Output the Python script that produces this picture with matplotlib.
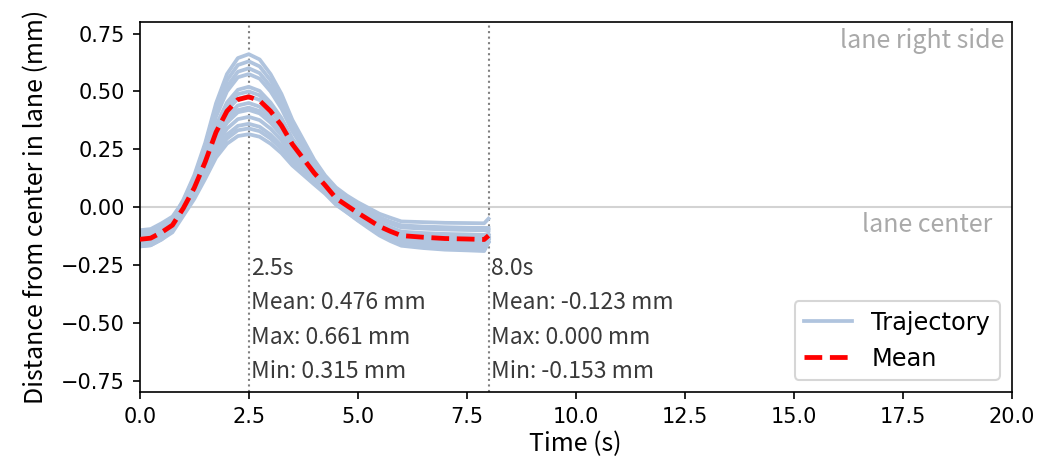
import numpy as np
import matplotlib as mpl
mpl.use('Agg')
import matplotlib.pyplot as plt

# --------------------------
# Data
# --------------------------
time_s = [0.0, 0.25, 0.5, 0.75, 1.0, 1.25, 1.5, 1.75, 2.0, 2.25, 2.5, 2.75, 3.0, 3.25, 3.5,
          3.75, 4.0, 4.25, 4.5, 4.75, 5.0, 5.25, 5.5, 5.75, 6.0, 6.5, 7.0, 7.5, 7.9, 8.0]

traj_01 = [-0.120, -0.115, -0.090, -0.053, 0.032, 0.138, 0.277, 0.449, 0.575, 0.644, 0.661, 0.638,
           0.575, 0.489, 0.377, 0.291, 0.205, 0.137, 0.085, 0.050, 0.021, -0.004, -0.029, -0.046,
           -0.062, -0.065, -0.068, -0.069, -0.070, -0.050]
traj_02 = [-0.100, -0.095, -0.070, -0.041, 0.026, 0.129, 0.264, 0.428, 0.548, 0.614, 0.630, 0.608,
           0.548, 0.466, 0.359, 0.277, 0.195, 0.130, 0.075, 0.040, 0.010, -0.017, -0.044, -0.063,
           -0.079, -0.084, -0.087, -0.089, -0.090, -0.090]
traj_03 = [-0.150, -0.145, -0.120, -0.078, 0.020, 0.120, 0.250, 0.408, 0.522, 0.585, 0.600, 0.579,
           0.522, 0.444, 0.342, 0.264, 0.186, 0.123, 0.056, 0.030, 0.003, -0.025, -0.052, -0.071,
           -0.088, -0.093, -0.097, -0.099, -0.100, -0.100]
traj_04 = [-0.130, -0.125, -0.100, -0.066, 0.015, 0.113, 0.239, 0.391, 0.500, 0.561, 0.575, 0.555,
           0.500, 0.426, 0.328, 0.253, 0.178, 0.117, 0.052, 0.022, -0.008, -0.037, -0.067, -0.087,
           -0.106, -0.112, -0.116, -0.118, -0.120, -0.115]
traj_05 = [-0.160, -0.155, -0.130, -0.090, 0.004, 0.096, 0.214, 0.354, 0.452, 0.507, 0.520, 0.502,
           0.452, 0.385, 0.296, 0.229, 0.161, 0.105, 0.043, 0.011, -0.021, -0.052, -0.082, -0.104,
           -0.123, -0.130, -0.136, -0.138, -0.140, -0.120]
traj_06 = [-0.110, -0.105, -0.080, -0.056, 0.000, 0.090, 0.205, 0.340, 0.435, 0.488, 0.500, 0.483,
           0.435, 0.370, 0.285, 0.220, 0.155, 0.100, 0.040, 0.011, -0.019, -0.047, -0.076, -0.097,
           -0.114, -0.121, -0.126, -0.128, -0.130, -0.130]
traj_07 = [-0.140, -0.135, -0.110, -0.078, -0.004, 0.084, 0.196, 0.326, 0.418, 0.468, 0.480, 0.463,
           0.418, 0.355, 0.274, 0.211, 0.149, 0.095, 0.037, 0.004, -0.029, -0.060, -0.091, -0.113,
           -0.132, -0.140, -0.146, -0.148, -0.150, -0.130]
traj_08 = [-0.170, -0.165, -0.140, -0.101, -0.010, 0.075, 0.183, 0.306, 0.392, 0.439, 0.450, 0.434,
           0.392, 0.333, 0.257, 0.198, 0.140, 0.089, 0.032, 0.003, -0.027, -0.056, -0.085, -0.105,
           -0.123, -0.130, -0.136, -0.138, -0.140, -0.130]
traj_09 = [-0.130, -0.125, -0.100, -0.074, -0.014, 0.069, 0.174, 0.292, 0.374, 0.419, 0.430, 0.415,
           0.374, 0.318, 0.245, 0.189, 0.133, 0.084, 0.029, -0.004, -0.038, -0.068, -0.099, -0.122,
           -0.141, -0.149, -0.155, -0.158, -0.160, -0.130]
traj_10 = [-0.150, -0.145, -0.120, -0.089, -0.016, 0.066, 0.169, 0.286, 0.365, 0.410, 0.420, 0.405,
           0.365, 0.311, 0.239, 0.185, 0.130, 0.082, 0.027, -0.003, -0.034, -0.063, -0.092, -0.114,
           -0.132, -0.140, -0.146, -0.148, -0.150, -0.145]
traj_11 = [-0.120, -0.115, -0.090, -0.070, -0.022, 0.057, 0.156, 0.265, 0.339, 0.380, 0.390, 0.376,
           0.339, 0.289, 0.222, 0.172, 0.121, 0.075, 0.022, -0.012, -0.045, -0.076, -0.107, -0.130,
           -0.150, -0.158, -0.165, -0.167, -0.170, -0.140]
traj_12 = [-0.160, -0.155, -0.130, -0.099, -0.028, 0.048, 0.142, 0.245, 0.313, 0.351, 0.360, 0.347,
           0.313, 0.266, 0.205, 0.158, 0.112, 0.068, 0.018, -0.015, -0.048, -0.078, -0.108, -0.131,
           -0.150, -0.158, -0.165, -0.167, -0.170, -0.140]
traj_13 = [-0.140, -0.135, -0.110, -0.087, -0.032, 0.042, 0.133, 0.231, 0.296, 0.332, 0.340, 0.328,
           0.296, 0.252, 0.194, 0.150, 0.105, 0.063, 0.014, -0.022, -0.058, -0.091, -0.123, -0.147,
           -0.167, -0.177, -0.184, -0.187, -0.190, -0.153]
traj_14 = [-0.170, -0.165, -0.140, -0.109, -0.037, 0.035, 0.122, 0.214, 0.274, 0.307, 0.315, 0.304,
           0.274, 0.233, 0.180, 0.139, 0.098, 0.058, 0.010, -0.023, -0.056, -0.086, -0.117, -0.139,
           -0.158, -0.167, -0.175, -0.177, -0.180, -0.153]

trajectories = [traj_01, traj_02, traj_03, traj_04, traj_05, traj_06, traj_07,
                traj_08, traj_09, traj_10, traj_11, traj_12, traj_13, traj_14]

# summary values printed on the chart
mark_times = [2.5, 8.0]
mark_mean = [0.476, -0.123]
mark_max = [0.661, 0.000]
mark_min = [0.315, -0.153]

label_font = ['Noto Sans CJK JP', 'DejaVu Sans']

# --------------------------
# Plot
# --------------------------
fig = plt.figure(figsize=(1043 / 150, 468 / 150), dpi=150)
ax = fig.add_axes([0.134, 0.162, 0.836, 0.791])

for i, tr in enumerate(trajectories):
    ax.plot(time_s, tr, color='lightsteelblue', lw=1.8,
            label='Trajectory' if i == 0 else None, zorder=2)

mean_tr = np.mean(np.array(trajectories), axis=0)
ax.plot(time_s, mean_tr, color='red', ls='--', lw=2.3, label='Mean', zorder=3)

ax.axhline(0, color='lightgray', lw=1, zorder=1)
ax.text(19.84, 0.72, 'lane right side', ha='right', va='center',
        color='darkgray', fontsize=12, family=label_font)
ax.text(19.56, -0.078, 'lane center', ha='right', va='center',
        color='darkgray', fontsize=12, family=label_font)

for t, m, mx, mn in zip(mark_times, mark_mean, mark_max, mark_min):
    ax.axvline(t, color='gray', ls=':', lw=1, zorder=1)
    txt = f"{t:.1f}s\nMean: {m:.3f} mm\nMax: {mx:.3f} mm\nMin: {mn:.3f} mm"
    ax.text(t + 0.05, -0.215, txt, ha='left', va='top', fontsize=11,
            color='#3a3a3a', family=label_font, linespacing=1.63)

ax.set_xlim(0, 20)
ax.set_ylim(-0.8, 0.8)
ax.set_xticks(np.arange(0, 20.1, 2.5))
ax.set_yticks([-0.75, -0.5, -0.25, 0, 0.25, 0.5, 0.75])
ax.tick_params(labelsize=10)
ax.set_xlabel('Time (s)', fontsize=12, family=label_font, labelpad=2)
ax.set_ylabel('Distance from center in lane (mm)', fontsize=12, family=label_font, labelpad=6)

ax.legend(loc='lower right', fontsize=11.5)

plt.savefig('out.png', dpi=150)
plt.close()
